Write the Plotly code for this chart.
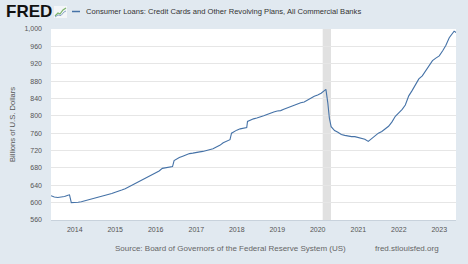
import plotly.graph_objects as go

dates = ["2013-06-01","2013-07-01","2013-08-01","2013-09-01","2013-10-01","2013-11-01","2013-11-15","2013-12-01",
"2014-01-01","2014-02-01","2014-03-01","2014-04-01","2014-05-01","2014-06-01","2014-07-01","2014-08-01","2014-09-01","2014-10-01","2014-11-01","2014-12-01",
"2015-01-01","2015-02-01","2015-03-01","2015-04-01","2015-05-01","2015-06-01","2015-07-01","2015-08-01","2015-09-01","2015-10-01","2015-11-01","2015-12-01",
"2016-01-01","2016-02-01","2016-03-01","2016-04-01","2016-05-01","2016-06-01","2016-06-15","2016-07-01","2016-08-01","2016-09-01","2016-10-01","2016-11-01","2016-12-01",
"2017-01-01","2017-02-01","2017-03-01","2017-04-01","2017-05-01","2017-06-01","2017-07-01","2017-08-01","2017-09-01","2017-10-01","2017-11-01","2017-11-15","2017-12-01",
"2018-01-01","2018-02-01","2018-03-01","2018-04-01","2018-04-08","2018-05-01","2018-06-01","2018-07-01","2018-08-01","2018-09-01","2018-10-01","2018-11-01","2018-12-01",
"2019-01-01","2019-02-01","2019-03-01","2019-04-01","2019-05-01","2019-06-01","2019-07-01","2019-08-01","2019-09-01","2019-10-01","2019-11-01","2019-12-01",
"2020-01-01","2020-02-01","2020-03-01","2020-03-15","2020-04-01","2020-04-15","2020-05-01","2020-06-01","2020-07-01","2020-08-01","2020-09-01","2020-10-01","2020-11-01","2020-12-01",
"2021-01-01","2021-02-01","2021-03-01","2021-04-01","2021-05-01","2021-06-01","2021-07-01","2021-08-01","2021-09-01","2021-10-01","2021-11-01","2021-12-01",
"2022-01-01","2022-02-01","2022-03-01","2022-04-01","2022-05-01","2022-06-01","2022-07-01","2022-08-01","2022-09-01","2022-10-01","2022-11-01","2022-12-01",
"2023-01-01","2023-02-01","2023-03-01","2023-04-01","2023-05-01","2023-05-15","2023-06-01"]

values = [616,613,612,613,614,617,618,600,
600,601,602,604,606,608,611,613,614,616,618,621,
624,626,629,632,636,640,643,647,651,655,659,663,
668,673,679,680,682,683,697,700,704,707,710,713,714,
716,717,718,720,722,724,728,732,738,742,745,760,763,
767,770,772,773,787,790,793,795,797,800,803,807,809,
811,812,815,818,822,824,827,830,832,836,842,845,
848,852,858,861,830,795,775,766,762,757,755,753,752,752,
750,748,746,741,747,755,760,764,770,776,786,799,
807,815,825,846,858,872,885,892,903,915,927,933,
938,950,962,980,992,995,992]

recession = ["2020-02-15", "2020-04-30"]
y_ticks = list(range(560, 1001, 40))
y_tick_labels = [f"{v:,}" for v in y_ticks]
x_ticks = [f"{y}-01-01" for y in range(2014, 2024)]
x_tick_labels = [str(y) for y in range(2014, 2024)]

series_name = "Consumer Loans: Credit Cards and Other Revolving Plans, All Commercial Banks"
y_title = "Billions of U.S. Dollars"
source_text = "Source: Board of Governors of the Federal Reserve System (US)"
site_text = "fred.stlouisfed.org"

BG = "#e1e9f0"
LINE = "#4572a7"
FONT = "Liberation Sans, Arial, sans-serif"

fig = go.Figure()
fig.add_trace(go.Scatter(x=dates, y=values, mode="lines",
                         line=dict(color=LINE, width=1.1), showlegend=False,
                         hoverinfo="skip"))

fig.add_shape(type="rect", xref="x", yref="paper", x0=recession[0], x1=recession[1],
              y0=0, y1=1, fillcolor="#e1e1e1", line=dict(width=0), layer="below")

L, R, T, B = 51, 12, 29, 44
W, H = 468, 264
pw, ph = W - L - R, H - T - B

def px(x):
    return (x - L) / pw

def py(y):
    return (H - B - y) / ph

# FRED logo icon
fig.add_shape(type="rect", xref="paper", yref="paper", x0=px(54), x1=px(67), y0=py(18), y1=py(6),
              fillcolor="#f4f6f8", line=dict(width=0))
fig.add_shape(type="path", xref="paper", yref="paper",
              path=f"M {px(55)},{py(16)} L {px(58)},{py(13)} L {px(60)},{py(14)} L {px(63)},{py(10)} L {px(66)},{py(8)}",
              line=dict(color="#7bb36a", width=1.2))
fig.add_shape(type="path", xref="paper", yref="paper",
              path=f"M {px(55)},{py(17)} L {px(58)},{py(15)} L {px(61)},{py(15.5)} L {px(64)},{py(12)} L {px(66)},{py(11)}",
              line=dict(color="#6c8fb9", width=0.8))
# legend dash
fig.add_shape(type="line", xref="paper", yref="paper", x0=px(72), x1=px(80), y0=py(11.5), y1=py(11.5),
              line=dict(color=LINE, width=1.5))

annotations = [
    dict(text="<b>FRED</b>", x=px(4), y=py(12), xanchor="left", yanchor="middle",
         font=dict(size=17, color="#111111", family="Liberation Sans, Arial"), showarrow=False),
    dict(text=series_name, x=px(84), y=py(11.5), xanchor="left", yanchor="middle",
         font=dict(size=7.6, color="#333333", family=FONT), showarrow=False),
    dict(text=y_title, x=px(12), y=py(125), xanchor="center", yanchor="middle", textangle=-90,
         font=dict(size=7.6, color="#555555", family=FONT), showarrow=False),
    dict(text=source_text, x=px(113), y=py(248), xanchor="left", yanchor="middle",
         font=dict(size=8, color="#666666", family=FONT), showarrow=False),
    dict(text=site_text, x=px(373), y=py(248), xanchor="left", yanchor="middle",
         font=dict(size=8, color="#666666", family=FONT), showarrow=False),
]
for a in annotations:
    a.update(xref="paper", yref="paper")

fig.update_layout(
    width=W, height=H, margin=dict(l=L, r=R, t=T, b=B),
    paper_bgcolor=BG, plot_bgcolor="#ffffff",
    font=dict(family=FONT, size=7, color="#666666"),
    annotations=annotations,
    xaxis=dict(range=[dates[0], dates[-1]], tickvals=x_ticks, ticktext=x_tick_labels,
               showgrid=False, zeroline=False, showline=True, linecolor="#c8d2dc",
               ticks="", tickfont=dict(size=7, color="#555555"), ticklabelstandoff=3),
    yaxis=dict(range=[560, 1000], tickvals=y_ticks, ticktext=y_tick_labels,
               showgrid=True, gridcolor="#e6e6e6", gridwidth=1, zeroline=False,
               showline=False, ticks="", tickfont=dict(size=7, color="#555555"),
               ticklabelstandoff=8),
)

fig.write_html("out.html")
